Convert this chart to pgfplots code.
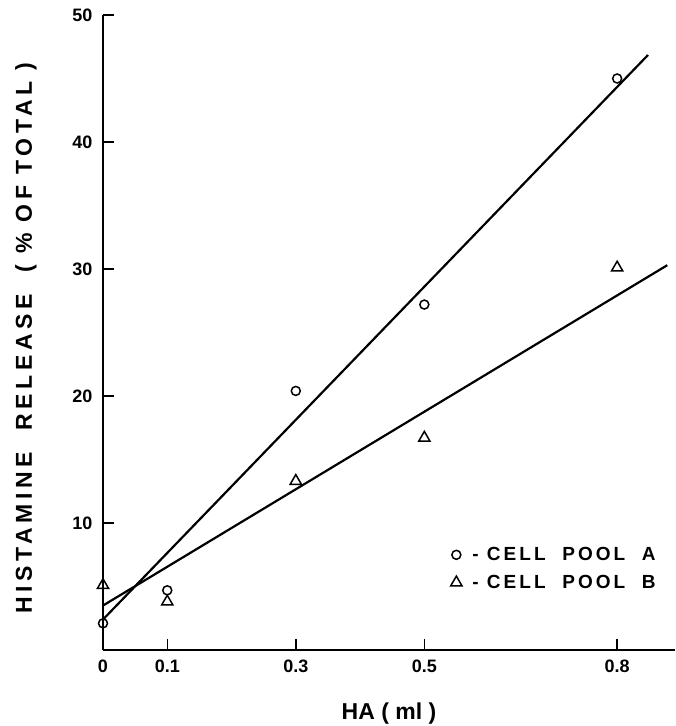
\documentclass[border=0pt]{standalone}
\usepackage{fontspec}
\setmainfont{Liberation Sans}
\usepackage{pgfplots}
\pgfplotsset{compat=1.18}
\newfontfamily\widefont[LetterSpace=20]{Liberation Sans}
\newfontfamily\legfont[LetterSpace=16]{Liberation Sans}

\pgfplotstableread{
x y
0   2.1
0.1 4.7
0.3 20.4
0.5 27.2
0.8 45.0
}\poolA
\pgfplotstableread{
x y
0   5.1
0.1 3.8
0.3 13.3
0.5 16.7
0.8 30.1
}\poolB

\begin{document}
\begin{tikzpicture}
\begin{axis}[
    scale only axis,
    width=572pt, height=635pt,
    xmin=0, xmax=0.89, ymin=0, ymax=50,
    axis x line=bottom, axis y line=left,
    axis line style={-, line width=1.6pt},
    tick align=inside,
    major tick length=11pt,
    tick style={line width=1.4pt, black},
    xtick={0,0.1,0.3,0.5,0.8},
    xticklabels={0,0.1,0.3,0.5,0.8},
    ytick={10,20,30,40,50},
    /pgf/number format/assume math mode=true,
    ticklabel style={font=\fontsize{18}{18}\selectfont\bfseries},
    xticklabel style={yshift=-6pt},
    yticklabel style={xshift=-7pt},
    xlabel={HA ( ml )},
    ylabel={HISTAMINE\ \ RELEASE\ \ ( \% OF TOTAL )},
    xlabel style={at={(rel axis cs:0.5,0)}, anchor=center, yshift=-64pt,
        font=\fontsize{23}{23}\selectfont\bfseries},
    ylabel style={at={(rel axis cs:0,0.5)}, anchor=center, yshift=77pt, xshift=-6pt,
        font=\widefont\fontsize{23}{23}\selectfont\bfseries},
    legend style={draw=none, fill=none, at={(rel axis cs:0.97,0.165)}, anchor=north east,
        font=\legfont\fontsize{19}{22}\selectfont\bfseries,
        row sep=9pt, inner sep=0pt},
    legend cell align=left,
]
\addplot[only marks, mark=o, mark size=4.5pt, mark options={line width=1.5pt}] table {\poolA};
\addlegendentry{\ - CELL\ \ POOL\ \ A}
\addplot[only marks, mark=triangle, mark size=6.5pt, mark options={line width=1.5pt}] table {\poolB};
\addlegendentry{\ - CELL\ \ POOL\ \ B}
\addplot[forget plot, line width=2.2pt] coordinates {(0,2.4) (0.848,46.85)};
\addplot[forget plot, line width=2.2pt] coordinates {(0,3.5) (0.878,30.3)};
\end{axis}
\pgfresetboundingbox
\path[use as bounding box] (-103pt,-76pt) rectangle (573pt,650pt);
\end{tikzpicture}
\end{document}
